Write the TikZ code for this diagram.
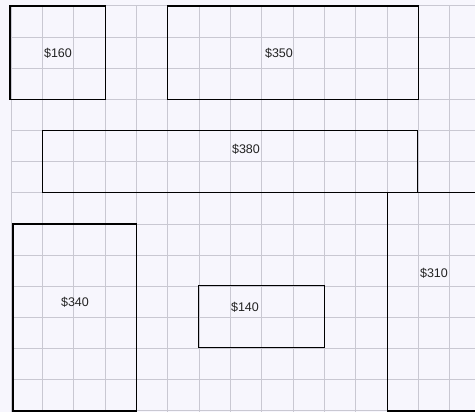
\documentclass[tikz,border=0pt]{standalone}
\usepackage{fontspec}
\setmainfont{Liberation Sans}
\definecolor{bg}{HTML}{F7F6FD}
\definecolor{gridc}{HTML}{C9C8D2}
\definecolor{txt}{HTML}{222222}
\begin{document}
\begin{tikzpicture}[x=1pt,y=-1pt,
  box/.style={draw=black, line width=1.1pt, inner sep=0pt, outer sep=0pt, anchor=north west},
  lbl/.style={font=\fontsize{12.5}{14}\selectfont, text=txt, inner sep=0pt},
  gridline/.style={draw=gridc, line width=1pt}]
\fill[bg] (0,0) rectangle (475,412);
\useasboundingbox (0,0) rectangle (475,412);
\clip (0,0) rectangle (475,412);
% grid
\foreach \i in {0,...,14} \draw[gridline] ({11+31.35*\i},6) -- ({11+31.35*\i},412);
\foreach \j in {0,...,13} \draw[gridline] (11,{6+31.15*\j}) -- (475,{6+31.15*\j});
% boxes
\node[box, minimum width=95.05pt,  minimum height=93.45pt]  (b160) at (10,6) {};
\node[box, minimum width=250.8pt,  minimum height=93.45pt]  (b350) at (167.25,6) {};
\node[box, minimum width=375.2pt,  minimum height=62.3pt]   (b380) at (42.35,130.6) {};
\node[box, minimum width=123.4pt,  minimum height=186.9pt]  (b340) at (13,224.05) {};
\node[box, minimum width=125.9pt,  minimum height=61.3pt]   (b140) at (198.6,285.85) {};
\node[box, minimum width=100pt,    minimum height=218.05pt] (b310) at (387.2,192.9) {};
% labels
\node[lbl] (t160) at (58,53) {\$160};
\node[lbl] (t350) at (279,53) {\$350};
\node[lbl] (t380) at (246,149) {\$380};
\node[lbl] (t340) at (75,302) {\$340};
\node[lbl] (t140) at (245,307) {\$140};
\node[lbl] (t310) at (434,273) {\$310};
\end{tikzpicture}
\end{document}
